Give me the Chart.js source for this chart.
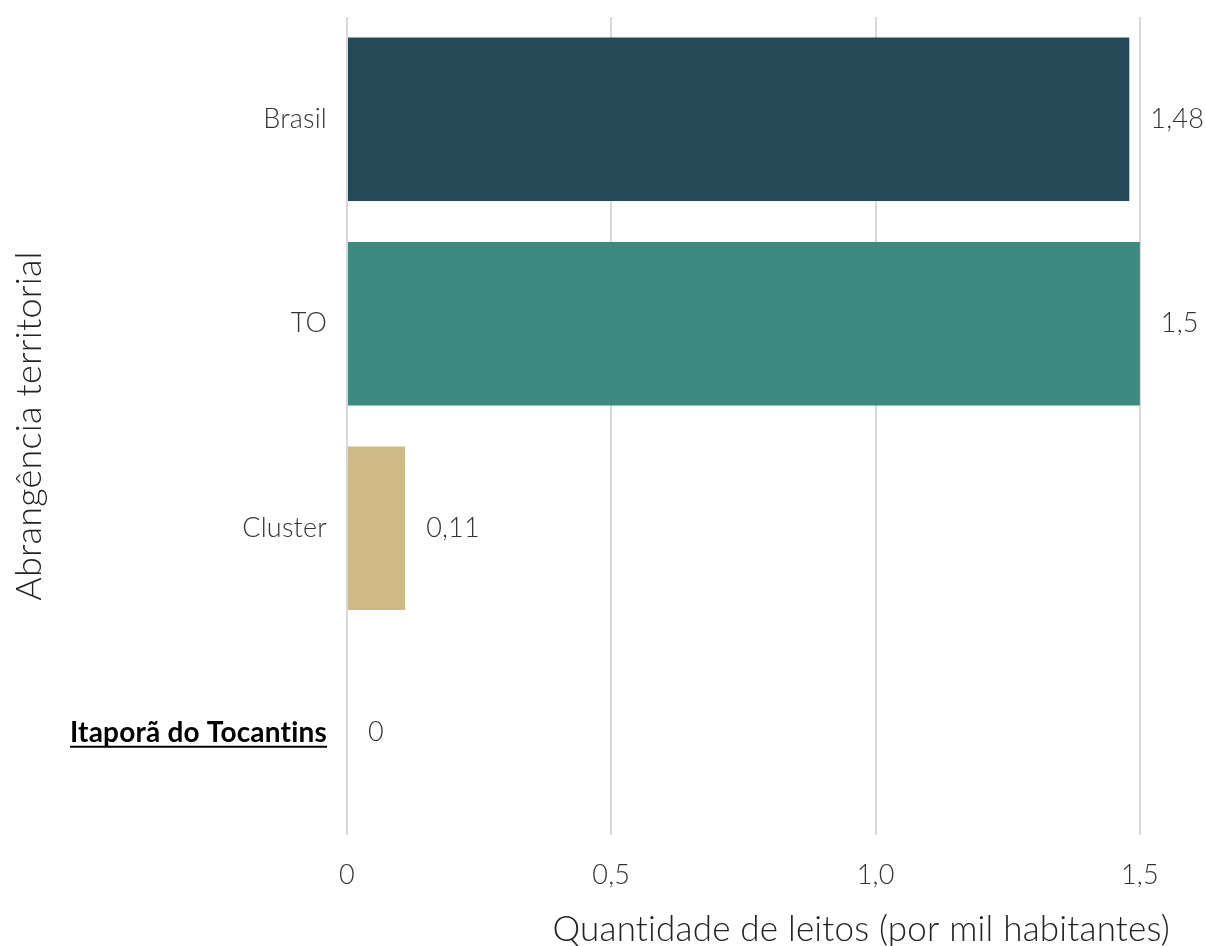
<!DOCTYPE html>
<html lang="pt-BR">
<head>
	<meta charset="UTF-8">
	<title>Leitos por mil habitantes</title>
	<script src="https://cdn.jsdelivr.net/npm/chart.js@4.4.1/dist/chart.umd.min.js"></script>
	<style>
		html, body { margin: 0; padding: 0; background: #fff; }
		#wrap { width: 1206px; height: 946px; }
	</style>
</head>
<body>
	<div id="wrap"><canvas id="bar-chart"></canvas></div>

	<script>
		// data
		var categorias = ["Brasil", "TO", "Cluster", "Itaporã do Tocantins"];
		var valores = [1.48, 1.5, 0.11, 0];
		var rotulos = ["1,48", "1,5", "0,11", "0"];
		var cores = ["#244a58", "#3c8a80", "#cfb985", "#c9bca6"];
		var xTicks = [0, 0.5, 1.0, 1.5];
		var xTickLabels = ["0", "0,5", "1,0", "1,5"];
		var destaque = "Itaporã do Tocantins";

		var fonte = "Lato, 'Open Sans', sans-serif";

		// value labels to the right of each bar + underline for highlighted tick
		var extras = {
			id: 'extras',
			beforeDraw: function(chart) {
				// small spacing keeps "ti" from turning into a ligature
				if ('letterSpacing' in chart.ctx) chart.ctx.letterSpacing = "0.2px";
			},
			afterDatasetsDraw: function(chart) {
				var ctx = chart.ctx;
				var meta = chart.getDatasetMeta(0);
				ctx.save();
				ctx.font = "300 27px " + fonte;
				ctx.fillStyle = "#333333";
				ctx.textAlign = "left";
				ctx.textBaseline = "middle";
				meta.data.forEach(function(bar, i) {
					ctx.fillText(rotulos[i], bar.x + 21, bar.y);
				});
				ctx.restore();
			},
			afterDraw: function(chart) {
				var ctx = chart.ctx;
				var y = chart.scales.y;
				var i = categorias.indexOf(destaque);
				var py = y.getPixelForValue(i);
				ctx.save();
				ctx.font = "bold 28px " + fonte;
				var w = ctx.measureText(destaque).width;
				var xr = chart.chartArea.left - 20;
				ctx.strokeStyle = "#000";
				ctx.lineWidth = 2;
				ctx.beginPath();
				ctx.moveTo(xr - w, py + 14);
				ctx.lineTo(xr, py + 14);
				ctx.stroke();
				ctx.restore();
			}
		};

		new Chart(document.getElementById("bar-chart"), {
			type: 'bar',
			data: {
				labels: categorias,
				datasets: [{
					data: valores,
					backgroundColor: cores,
					barPercentage: 0.8,
					categoryPercentage: 1.0
				}]
			},
			options: {
				indexAxis: 'y',
				responsive: true,
				maintainAspectRatio: false,
				animation: false,
				layout: { padding: { top: 17, right: 36, left: 0, bottom: 0 } },
				plugins: {
					legend: { display: false },
					tooltip: { enabled: false }
				},
				scales: {
					x: {
						min: 0,
						max: 1.557,
						afterBuildTicks: function(s) {
							s.ticks = xTicks.map(function(v) { return { value: v }; });
						},
						afterFit: function(s) { s.height = 111; s.paddingLeft = 0; s.paddingRight = 0; },
						border: { display: false },
						grid: { color: "#d9d9d9", lineWidth: 2, drawTicks: false },
						ticks: {
							padding: 24,
							color: "#333333",
							font: { family: fonte, size: 27, weight: 300 },
							callback: function(v, i) { return xTickLabels[i]; }
						},
						title: {
							display: true,
							text: "Quantidade de leitos (por mil habitantes)",
							align: 'end',
							color: "#222222",
							font: { family: fonte, size: 35, weight: 300 },
							padding: { top: 0, bottom: -5 }
						}
					},
					y: {
						afterFit: function(s) { s.width = 347; s.paddingTop = 0; s.paddingBottom = 0; },
						border: { display: false },
						grid: { display: false, drawTicks: false },
						ticks: {
							padding: 20,
							color: function(c) { return categorias[c.index] === destaque ? "#000000" : "#333333"; },
							font: function(c) {
								if (categorias[c.index] === destaque) return { family: fonte, size: 28, weight: 'bold' };
								return { family: fonte, size: 27, weight: 300 };
							}
						},
						title: {
							display: true,
							text: "Abrangência territorial",
							color: "#222222",
							font: { family: fonte, size: 36, weight: 300 },
							padding: { top: 8, bottom: 0 }
						}
					}
				}
			},
			plugins: [extras]
		});
	</script>
</body>
</html>
